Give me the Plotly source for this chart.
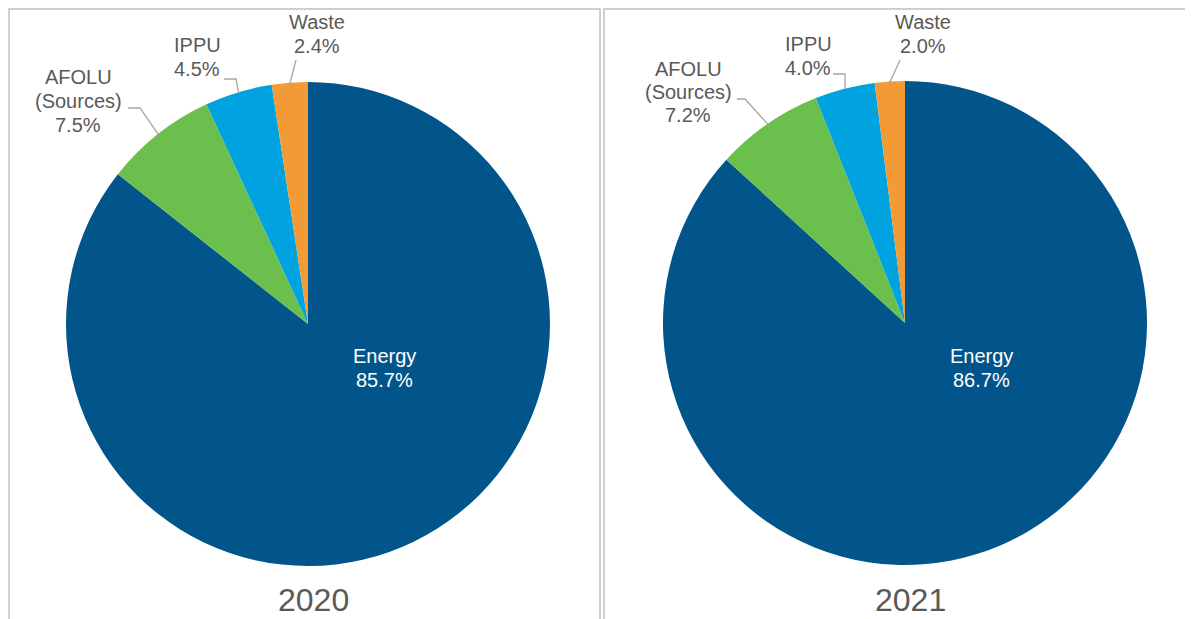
import math
import plotly.graph_objects as go

W, H = 1193, 619
OX, OY = 8, 8          # page body margin of the browser
FW, FH = W - OX, H - OY

# ---- data ----
categories = ["Energy", "AFOLU<br>(Sources)", "IPPU", "Waste"]
values_2020 = [85.7, 7.5, 4.5, 2.4]
values_2021 = [86.7, 7.2, 4.0, 2.0]
years = ["2020", "2021"]
colors = ["#02558B", "#6BBF4C", "#00A2DF", "#F29A36"]

TXT = "#595959"
FONT = "Liberation Sans, Arial, sans-serif"
FS = 20
LH = 23.5


def px(x):
    return (x - OX) / FW


def py(y):
    return 1 - (y - OY) / FH


pies = [
    dict(vals=values_2020, cx=308, cy=324, r=242, year=years[0],
         energy_off=(76, 44),
         leaders=[None,
                  dict(pts=[(140, 108), (128, 108)], lab=(78, 101)),
                  dict(pts=[(236, 79), (224, 79)], lab=(197, 57)),
                  dict(pts=[(296, 60)], lab=(317, 34))]),
    dict(vals=values_2021, cx=905, cy=323, r=242, year=years[1],
         energy_off=(76, 45),
         leaders=[None,
                  dict(pts=[(745, 99), (737, 99)], lab=(688, 92)),
                  dict(pts=[(845, 74), (833, 74)], lab=(808, 56)),
                  dict(pts=[(900, 60)], lab=(923, 34))]),
]

fig = go.Figure()
shapes = []
annotations = []


def add_label(lines, x, y, color):
    n = len(lines)
    for k, t in enumerate(lines):
        yy = y + (k - (n - 1) / 2) * LH
        annotations.append(dict(
            x=px(x), y=py(yy), xref="paper", yref="paper", text=t,
            showarrow=False, font=dict(family=FONT, size=FS, color=color),
            xanchor="center", yanchor="middle"))


for p in pies:
    cx, cy, r = p["cx"], p["cy"], p["r"]
    fig.add_trace(go.Pie(
        labels=categories, values=p["vals"], sort=False,
        direction="clockwise", rotation=0,
        marker=dict(colors=colors, line=dict(width=0)),
        textinfo="none", hoverinfo="label+percent", showlegend=False,
        domain=dict(x=[px(cx - r), px(cx + r)], y=[py(cy + r), py(cy - r)]),
    ))
    total = sum(p["vals"])
    cum = 0.0
    for i, v in enumerate(p["vals"]):
        mid = (cum + v / 2) / total * 2 * math.pi
        cum += v
        lines = categories[i].split("<br>") + [f"{v:.1f}%"]
        if i == 0:
            ex, ey = p["energy_off"]
            add_label(lines, cx + ex, cy + ey, "white")
            continue
        sx = cx + (r - 1) * math.sin(mid)
        sy = cy - (r - 1) * math.cos(mid)
        ld = p["leaders"][i]
        path = f"M {px(sx)} {py(sy)}"
        for (qx, qy) in ld["pts"]:
            path += f" L {px(qx)} {py(qy)}"
        shapes.append(dict(type="path", path=path, xref="paper", yref="paper",
                           line=dict(color="#A6A6A6", width=1.3)))
        lx, ly = ld["lab"]
        add_label(lines, lx, ly, TXT)
    annotations.append(dict(
        x=px(cx + 5), y=py(600), xref="paper", yref="paper",
        text=p["year"], showarrow=False,
        font=dict(family=FONT, size=32, color=TXT),
        xanchor="center", yanchor="middle"))

# panel borders
for (x0, x1) in [(9, 600), (604, 1220)]:
    shapes.append(dict(type="rect", xref="paper", yref="paper",
                       x0=px(x0), x1=px(x1), y0=py(660), y1=py(9),
                       line=dict(color="#C0C0C0", width=1.5),
                       fillcolor="rgba(0,0,0,0)", layer="below"))

fig.update_layout(
    width=FW, height=FH, margin=dict(l=0, r=0, t=0, b=0),
    paper_bgcolor="white", plot_bgcolor="white",
    shapes=shapes, annotations=annotations,
    font=dict(family=FONT, color=TXT),
)

fig.write_html("out.html")
